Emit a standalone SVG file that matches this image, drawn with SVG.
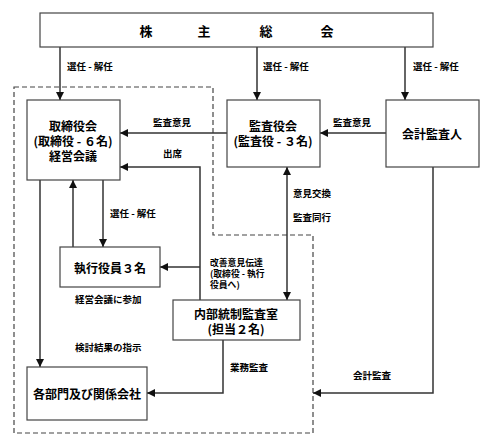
<svg xmlns="http://www.w3.org/2000/svg" width="493" height="447" viewBox="0 0 493 447">
<style>
  .box{fill:#fff;stroke:#444;stroke-width:1.2}
  .ln{fill:none;stroke:#333;stroke-width:1.5}
  .dash{fill:none;stroke:#444;stroke-width:1.2;stroke-dasharray:5,3}
  text{font-family:"Noto Sans CJK JP","Liberation Sans",sans-serif;font-weight:bold;fill:#000;dominant-baseline:central}
  .nt{font-size:12px;text-anchor:middle}
  .lb{font-size:9.5px}
  .sm{font-size:8.8px}
  .top{font-size:13px;text-anchor:middle}
</style>
<defs>
  <marker id="ah" markerWidth="8" markerHeight="8" refX="8" refY="4" orient="auto-start-reverse" markerUnits="userSpaceOnUse">
    <path d="M0,0 L8,4 L0,8 z" fill="#111"/>
  </marker>
</defs>
<rect width="493" height="447" fill="#fff"/>

<g id="boundary">
  <path class="dash" d="M14,87 H213 V235 H313 V433 H14 Z"/>
</g>

<g id="connectors">
  <line class="ln" x1="60" y1="47" x2="60" y2="100" marker-end="url(#ah)"/>
  <line class="ln" x1="257" y1="47" x2="257" y2="100" marker-end="url(#ah)"/>
  <line class="ln" x1="405" y1="47" x2="405" y2="100" marker-end="url(#ah)"/>
  <line class="ln" x1="386" y1="133" x2="320" y2="133" marker-end="url(#ah)"/>
  <line class="ln" x1="227" y1="133" x2="120" y2="133" marker-end="url(#ah)"/>
  <path class="ln" d="M200,300 V167 H120" marker-end="url(#ah)"/>
  <line class="ln" x1="200" y1="267" x2="160" y2="267" marker-end="url(#ah)"/>
  <line class="ln" x1="40" y1="180" x2="40" y2="367" marker-end="url(#ah)"/>
  <line class="ln" x1="73" y1="247" x2="73" y2="180" marker-end="url(#ah)"/>
  <line class="ln" x1="103" y1="180" x2="103" y2="247" marker-end="url(#ah)"/>
  <line class="ln" x1="287" y1="167" x2="287" y2="300" marker-start="url(#ah)" marker-end="url(#ah)"/>
  <path class="ln" d="M223,340 V393 H147" marker-end="url(#ah)"/>
  <path class="ln" d="M433,167 V393 H313" marker-end="url(#ah)"/>
  <text class="lb" x="67" y="66">選任 - 解任</text>
  <text class="lb" x="263" y="66">選任 - 解任</text>
  <text class="lb" x="413" y="66">選任 - 解任</text>
  <text class="lb" x="333" y="122">監査意見</text>
  <text class="lb" x="153" y="122">監査意見</text>
  <text class="lb" x="163" y="153">出席</text>
  <text class="lb" x="110" y="213">選任 - 解任</text>
  <text class="lb" x="293" y="193">意見交換</text>
  <text class="lb" x="293" y="217">監査同行</text>
  <text class="sm" x="210" y="262">改善意見伝達</text>
  <text class="sm" x="210" y="273">(取締役 - 執行</text>
  <text class="sm" x="210" y="284">役員へ)</text>
  <text class="lb" x="75" y="299">経営会議に参加</text>
  <text class="lb" x="75" y="347">検討結果の指示</text>
  <text class="lb" x="230" y="367">業務監査</text>
  <text class="lb" x="353" y="375">会計監査</text>
</g>

<g id="shareholders">
  <rect class="box" x="40" y="13" width="393" height="34"/>
  <text class="top" x="146" y="30">株</text>
  <text class="top" x="204" y="30">主</text>
  <text class="top" x="266" y="30">総</text>
  <text class="top" x="327" y="30">会</text>
</g>

<g id="board">
  <rect class="box" x="27" y="100" width="93" height="80"/>
  <text class="nt" x="73" y="125">取締役会</text>
  <text class="nt" x="73" y="140">(取締役 - ６名)</text>
  <text class="nt" x="73" y="155">経営会議</text>
</g>

<g id="auditors">
  <rect class="box" x="227" y="100" width="93" height="67"/>
  <text class="nt" x="273" y="125">監査役会</text>
  <text class="nt" x="273" y="140">(監査役 - ３名)</text>
</g>

<g id="accounting-auditor">
  <rect class="box" x="386" y="100" width="93" height="67"/>
  <text class="nt" x="432" y="133">会計監査人</text>
</g>

<g id="executives">
  <rect class="box" x="60" y="247" width="100" height="40"/>
  <text class="nt" x="110" y="267">執行役員３名</text>
</g>

<g id="internal-audit">
  <rect class="box" x="173" y="300" width="127" height="40"/>
  <text class="nt" x="236" y="313">内部統制監査室</text>
  <text class="nt" x="236" y="328">(担当２名)</text>
</g>

<g id="departments">
  <rect class="box" x="27" y="367" width="120" height="53"/>
  <text class="nt" x="87" y="393">各部門及び関係会社</text>
</g>
</svg>
